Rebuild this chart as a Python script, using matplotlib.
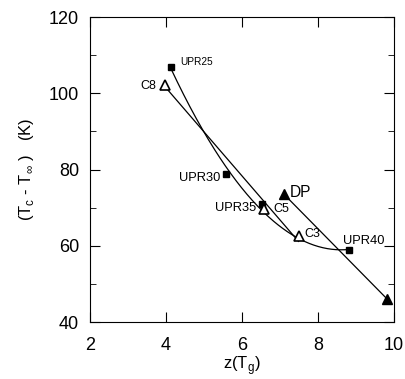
import numpy as np
import matplotlib
matplotlib.use("Agg")
import matplotlib.pyplot as plt

plt.rcParams["font.family"] = ["Liberation Sans", "DejaVu Sans"]

# UPR series (filled squares), fitted with a quadratic
upr_names = ["UPR25", "UPR30", "UPR35", "UPR40"]
upr_z = [4.13, 5.57, 6.53, 8.81]
upr_dt = [107.0, 78.9, 70.9, 58.8]

# C series (open triangles), fitted with a straight line
c_names = ["C8", "C5", "C3"]
c_z = [3.97, 6.58, 7.49]
c_dt = [102.3, 69.6, 62.7]

# DP (filled triangles)
dp_z = [7.11, 9.83]
dp_dt = [73.5, 46.0]

fig = plt.figure(figsize=(4.06, 3.79), dpi=100)
ax = fig.add_axes([0.222, 0.150, 0.748, 0.805])

upr_fit = np.polyfit(upr_z, upr_dt, 2)
zz = np.linspace(min(upr_z), max(upr_z), 200)
ax.plot(zz, np.polyval(upr_fit, zz), color="black", lw=0.9)

c_fit = np.polyfit(c_z, c_dt, 1)
zz = np.linspace(min(c_z), max(c_z), 50)
ax.plot(zz, np.polyval(c_fit, zz), color="black", lw=0.9)

ax.plot(dp_z, dp_dt, color="black", lw=0.9)

ax.plot(upr_z, upr_dt, "s", color="black", ms=5, zorder=3)
ax.plot(c_z, c_dt, "^", mfc="white", mec="black", mew=1.2, ms=6.5, zorder=3)
ax.plot(dp_z, dp_dt, "^", color="black", ms=6.5, zorder=3)

# point labels
ax.annotate("UPR25", (upr_z[0], upr_dt[0]), xytext=(7, 3), textcoords="offset points",
            fontsize=7.3, va="center", ha="left")
ax.annotate("UPR30", (upr_z[1], upr_dt[1]), xytext=(-4, -3), textcoords="offset points",
            fontsize=9.3, va="center", ha="right")
ax.annotate("UPR35", (upr_z[2], upr_dt[2]), xytext=(-4, -2.5), textcoords="offset points",
            fontsize=9.3, va="center", ha="right")
ax.annotate("UPR40", (upr_z[3], upr_dt[3]), xytext=(-4, 6.5), textcoords="offset points",
            fontsize=9.3, va="center", ha="left")
ax.annotate("C8", (c_z[0], c_dt[0]), xytext=(-6, -1), textcoords="offset points",
            fontsize=9, va="center", ha="right")
ax.annotate("C5", (c_z[1], c_dt[1]), xytext=(7, 0), textcoords="offset points",
            fontsize=9, va="center", ha="left")
ax.annotate("C3", (c_z[2], c_dt[2]), xytext=(4, 1), textcoords="offset points",
            fontsize=9, va="center", ha="left")
ax.annotate("DP", (dp_z[0], dp_dt[0]), xytext=(4, 1.5), textcoords="offset points",
            fontsize=11.2, va="center", ha="left")

ax.set_xlim(2, 10)
ax.set_ylim(40, 120)
ax.set_xticks([2, 4, 6, 8, 10])
ax.set_yticks([40, 60, 80, 100, 120])
ax.set_yticks([50, 70, 90, 110], minor=True)
ax.tick_params(axis="both", which="both", direction="in", top=True, right=True,
               labelsize=13)
ax.tick_params(axis="x", which="major", length=7, pad=11)
ax.tick_params(axis="y", which="major", length=7, pad=8)
ax.tick_params(axis="y", which="minor", length=4)

ax.set_xlabel(r"z(T$_\mathregular{g}$)", fontsize=12, labelpad=0)
ax.set_ylabel(r"(T$_\mathregular{c}$ - T$_\mathregular{\infty}$ )   (K)",
              fontsize=12, labelpad=9)

fig.savefig("out.png", dpi=100)
